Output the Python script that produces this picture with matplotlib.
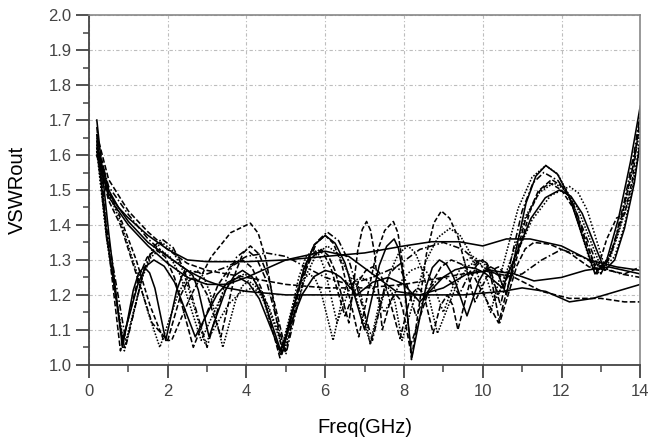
import matplotlib
matplotlib.use("Agg")
import matplotlib.pyplot as plt
from matplotlib.ticker import MultipleLocator

plt.rcParams['font.family'] = ['Liberation Sans', 'DejaVu Sans']

# VSWR traces, (freq GHz, VSWR) keypoints
# steep group: first null near 0.8-1.0 GHz
trace_a1 = [(0.2, 1.70), (0.5, 1.38), (0.85, 1.05), (1.125, 1.213), (1.26, 1.262), (1.4, 1.28), (1.54, 1.263),
            (1.675, 1.219), (1.95, 1.07), (2.225, 1.212), (2.36, 1.254), (2.5, 1.27), (2.64, 1.255), (2.775, 1.215),
            (3.05, 1.08), (3.475, 1.215), (3.69, 1.255), (3.9, 1.27), (4.15, 1.251), (4.4, 1.20), (4.9, 1.03),
            (5.45, 1.271), (5.72, 1.343), (6.0, 1.37), (6.25, 1.348), (6.5, 1.292), (7.0, 1.10), (7.375, 1.285),
            (7.56, 1.339), (7.75, 1.36), (7.86, 1.333), (7.975, 1.261), (8.2, 1.02), (8.55, 1.219), (8.72, 1.278),
            (8.9, 1.30), (9.08, 1.287), (9.25, 1.254), (9.6, 1.14), (9.9, 1.239), (10.05, 1.269), (10.2, 1.28),
            (10.3, 1.274), (10.4, 1.257), (10.6, 1.20), (11.1, 1.463), (11.35, 1.54), (11.6, 1.57), (11.9, 1.545),
            (12.2, 1.48), (12.85, 1.26), (13.15, 1.30), (13.45, 1.42), (13.75, 1.58), (14.0, 1.74)]
trace_a2 = [(0.2, 1.66), (0.45, 1.38), (0.8, 1.04), (1.25, 1.246), (1.475, 1.307), (1.7, 1.33), (1.94, 1.308),
            (2.175, 1.249), (2.65, 1.05), (3.275, 1.228), (3.59, 1.28), (3.9, 1.30), (4.14, 1.278), (4.375, 1.219),
            (4.85, 1.02), (5.375, 1.24), (5.64, 1.305), (5.9, 1.33), (6.075, 1.313), (6.25, 1.269), (6.6, 1.12),
            (6.825, 1.326), (6.94, 1.387), (7.05, 1.41), (7.15, 1.385), (7.25, 1.32), (7.45, 1.10), (7.625, 1.171),
            (7.71, 1.192), (7.8, 1.20), (7.89, 1.188), (7.975, 1.157), (8.15, 1.05), (8.675, 1.228), (8.94, 1.28),
            (9.2, 1.30), (9.5, 1.286), (9.8, 1.248), (10.4, 1.12), (11.075, 1.411), (11.41, 1.497), (11.75, 1.53),
            (12.04, 1.508), (12.325, 1.452), (12.9, 1.26), (13.2, 1.30), (13.5, 1.41), (13.8, 1.56), (14.0, 1.70)]
trace_a3 = [(0.2, 1.62), (0.45, 1.36), (0.9, 1.05), (1.35, 1.249), (1.575, 1.308), (1.8, 1.33), (2.06, 1.309),
            (2.325, 1.255), (2.85, 1.07), (3.4, 1.205), (3.675, 1.245), (3.95, 1.26), (4.2, 1.242), (4.45, 1.196),
            (4.95, 1.04), (5.5, 1.253), (5.775, 1.316), (6.05, 1.34), (6.325, 1.318), (6.6, 1.259), (7.15, 1.06),
            (7.625, 1.259), (7.86, 1.318), (8.1, 1.34), (8.29, 1.32), (8.475, 1.268), (8.85, 1.09), (9.375, 1.239),
            (9.64, 1.283), (9.9, 1.30), (10.025, 1.292), (10.15, 1.271), (10.4, 1.20), (11.1, 1.427), (11.45, 1.494),
            (11.8, 1.52), (12.1, 1.501), (12.4, 1.45), (13.0, 1.28), (13.25, 1.31), (13.5, 1.40), (13.75, 1.53),
            (14.0, 1.68)]
trace_a4 = [(0.2, 1.68), (0.45, 1.39), (0.95, 1.06), (1.4, 1.273), (1.625, 1.336), (1.85, 1.36), (2.14, 1.335),
            (2.425, 1.27), (3.0, 1.05), (3.5, 1.249), (3.75, 1.308), (4.0, 1.33), (4.25, 1.306), (4.5, 1.243),
            (5.0, 1.03), (5.525, 1.279), (5.79, 1.352), (6.05, 1.38), (6.34, 1.355), (6.625, 1.29), (7.2, 1.07),
            (7.5, 1.219), (7.65, 1.263), (7.8, 1.28), (7.925, 1.269), (8.05, 1.239), (8.3, 1.14), (8.65, 1.218),
            (8.825, 1.241), (9.0, 1.25), (9.1, 1.246), (9.2, 1.236), (9.4, 1.20), (9.7, 1.271), (9.85, 1.292),
            (10.0, 1.30), (10.11, 1.29), (10.225, 1.262), (10.45, 1.17), (11.0, 1.44), (11.275, 1.52), (11.55, 1.55),
            (11.91, 1.527), (12.275, 1.466), (13.0, 1.26), (13.3, 1.33), (13.6, 1.47), (13.85, 1.61), (14.0, 1.72)]
trace_a5 = [(0.2, 1.64), (0.45, 1.37), (0.85, 1.07), (1.25, 1.233), (1.45, 1.282), (1.65, 1.30), (1.91, 1.282),
            (2.175, 1.236), (2.7, 1.08), (3.25, 1.201), (3.525, 1.236), (3.8, 1.25), (4.06, 1.233), (4.325, 1.189),
            (4.85, 1.04), (5.425, 1.203), (5.71, 1.252), (6.0, 1.27), (6.2, 1.264), (6.4, 1.25), (6.8, 1.20),
            (7.2, 1.236), (7.6, 1.25), (8.0, 1.23), (8.4, 1.18), (9.0, 1.251), (9.3, 1.272), (9.6, 1.28),
            (9.825, 1.275), (10.05, 1.263), (10.5, 1.22), (11.225, 1.419), (11.59, 1.478), (11.95, 1.50),
            (12.24, 1.482), (12.525, 1.433), (13.1, 1.27), (13.35, 1.30), (13.6, 1.39), (13.85, 1.52), (14.0, 1.64)]

# slow group: smooth decay
trace_b1 = [(0.2, 1.62), (0.5, 1.50), (0.75, 1.45), (1.0, 1.42), (1.5, 1.37), (2.0, 1.33), (2.5, 1.30),
            (3.0, 1.295), (4.0, 1.295), (5.0, 1.30), (6.0, 1.31), (7.0, 1.32), (8.0, 1.34), (8.7, 1.352),
            (9.4, 1.352), (10.0, 1.34), (10.6, 1.36), (11.2, 1.36), (12.0, 1.34), (12.7, 1.30), (13.4, 1.28),
            (14.0, 1.27)]
trace_b2 = [(0.2, 1.66), (0.5, 1.53), (1.0, 1.44), (1.5, 1.38), (2.0, 1.33), (2.5, 1.29), (3.0, 1.27),
            (4.0, 1.25), (5.0, 1.23), (6.0, 1.22), (7.0, 1.22), (8.0, 1.23), (9.0, 1.25), (10.0, 1.27),
            (10.8, 1.25), (11.5, 1.21), (12.2, 1.19), (13.0, 1.19), (13.6, 1.18), (14.0, 1.18)]
trace_b3 = [(0.2, 1.60), (0.5, 1.49), (1.0, 1.41), (1.5, 1.35), (2.0, 1.31), (2.5, 1.27), (3.0, 1.24),
            (3.5, 1.22), (4.0, 1.21), (5.0, 1.20), (6.0, 1.20), (7.0, 1.20), (8.0, 1.20), (9.5, 1.20),
            (10.5, 1.21), (11.0, 1.22), (11.6, 1.21), (12.2, 1.18), (12.8, 1.19), (13.4, 1.21), (14.0, 1.23)]
trace_b4 = [(0.2, 1.63), (0.5, 1.51), (1.0, 1.43), (1.5, 1.36), (2.0, 1.31), (2.5, 1.27), (3.0, 1.26),
            (3.5, 1.28), (4.0, 1.31), (4.5, 1.32), (5.0, 1.31), (5.5, 1.28), (6.0, 1.25), (6.6, 1.23),
            (7.2, 1.25), (7.8, 1.28), (8.4, 1.33), (9.0, 1.35), (9.5, 1.33), (10.0, 1.28), (10.5, 1.25),
            (11.0, 1.26), (11.5, 1.30), (12.0, 1.33), (12.5, 1.31), (13.0, 1.28), (13.5, 1.26), (14.0, 1.25)]
trace_b5 = [(0.2, 1.61), (0.5, 1.48), (1.0, 1.40), (1.5, 1.34), (2.0, 1.29), (2.5, 1.25), (3.0, 1.23),
            (3.5, 1.23), (4.0, 1.25), (5.0, 1.30), (6.0, 1.325), (6.6, 1.31), (7.2, 1.26), (7.8, 1.21),
            (8.4, 1.20), (9.0, 1.22), (9.6, 1.26), (10.2, 1.27), (10.8, 1.26), (11.3, 1.24), (12.0, 1.25),
            (12.6, 1.27), (13.2, 1.28), (14.0, 1.26)]

# slow group: first null near 1.8-2.1 GHz
trace_c1 = [(0.2, 1.65), (0.5, 1.50), (0.8, 1.42), (1.2, 1.30), (1.55, 1.17), (1.9, 1.07), (2.1, 1.07),
            (2.6, 1.20), (3.1, 1.308), (3.6, 1.378), (4.1, 1.405), (4.3, 1.376), (4.5, 1.299), (4.9, 1.04),
            (5.45, 1.274), (5.725, 1.344), (6.0, 1.37), (6.21, 1.347), (6.425, 1.286), (6.85, 1.08), (7.29, 1.314),
            (7.51, 1.384), (7.73, 1.41), (7.845, 1.378), (7.96, 1.295), (8.19, 1.015), (8.57, 1.317), (8.76, 1.406),
            (8.95, 1.44), (9.16, 1.419), (9.375, 1.365), (9.8, 1.18), (10.1, 1.251), (10.25, 1.272), (10.4, 1.28),
            (10.7, 1.24), (11.2, 1.439), (11.45, 1.498), (11.7, 1.52), (12.0, 1.50), (12.3, 1.448), (12.9, 1.27),
            (13.15, 1.36), (13.4, 1.42), (13.6, 1.43), (13.8, 1.53), (14.0, 1.71)]
trace_c2 = [(0.2, 1.63), (0.5, 1.49), (0.8, 1.41), (1.2, 1.27), (1.5, 1.15), (1.8, 1.05), (2.275, 1.206),
            (2.51, 1.252), (2.75, 1.27), (2.91, 1.252), (3.075, 1.206), (3.4, 1.05), (3.725, 1.185), (3.89, 1.225),
            (4.05, 1.24), (4.25, 1.223), (4.45, 1.179), (4.85, 1.03), (5.225, 1.193), (5.41, 1.242), (5.6, 1.26),
            (5.75, 1.245), (5.9, 1.205), (6.2, 1.07), (6.45, 1.198), (6.575, 1.236), (6.7, 1.25), (6.81, 1.235),
            (6.92, 1.195), (7.14, 1.06), (7.37, 1.174), (7.485, 1.207), (7.6, 1.22), (7.69, 1.208), (7.775, 1.177),
            (7.95, 1.07), (8.555, 1.297), (8.86, 1.364), (9.16, 1.39), (9.42, 1.371), (9.68, 1.32), (10.2, 1.15),
            (10.9, 1.448), (11.25, 1.536), (11.6, 1.57), (11.9, 1.546), (12.2, 1.483), (12.8, 1.27), (13.1, 1.29),
            (13.4, 1.36), (13.7, 1.47), (14.0, 1.62)]
trace_c3 = [(0.2, 1.60), (0.5, 1.47), (0.8, 1.40), (1.2, 1.26), (1.6, 1.12), (2.0, 1.07), (2.325, 1.198),
            (2.49, 1.236), (2.65, 1.25), (2.825, 1.236), (3.0, 1.201), (3.35, 1.08), (3.725, 1.265), (3.91, 1.319),
            (4.1, 1.34), (4.325, 1.316), (4.55, 1.253), (5.0, 1.04), (5.4, 1.246), (5.6, 1.307), (5.8, 1.33),
            (5.975, 1.315), (6.15, 1.275), (6.5, 1.14), (6.85, 1.239), (7.025, 1.269), (7.2, 1.28), (7.375, 1.264),
            (7.55, 1.221), (7.9, 1.075), (8.125, 1.178), (8.24, 1.208), (8.35, 1.22), (8.45, 1.21), (8.545, 1.182),
            (8.74, 1.09), (8.92, 1.168), (9.1, 1.20), (9.235, 1.171), (9.37, 1.10), (9.685, 1.242), (9.84, 1.284),
            (10.0, 1.30), (10.11, 1.286), (10.215, 1.248), (10.43, 1.12), (10.865, 1.283), (11.08, 1.332),
            (11.3, 1.35), (11.7, 1.345), (12.2, 1.32), (12.7, 1.28), (13.2, 1.27), (13.6, 1.26), (14.0, 1.28)]
trace_d1 = [(0.2, 1.61), (0.45, 1.36), (0.9, 1.04), (1.375, 1.26), (1.61, 1.325), (1.85, 1.35), (2.125, 1.327),
            (2.4, 1.266), (2.95, 1.06), (3.55, 1.174), (3.85, 1.207), (4.15, 1.22), (4.35, 1.206), (4.55, 1.171),
            (4.95, 1.05), (5.325, 1.249), (5.51, 1.308), (5.7, 1.33), (5.85, 1.313), (6.0, 1.269), (6.3, 1.12),
            (6.6, 1.212), (6.75, 1.24), (6.9, 1.25), (7.05, 1.242), (7.2, 1.221), (7.5, 1.15), (7.95, 1.242),
            (8.175, 1.27), (8.4, 1.28), (8.55, 1.27), (8.7, 1.242), (9.0, 1.15), (9.375, 1.264), (9.56, 1.297),
            (9.75, 1.31), (9.89, 1.30), (10.025, 1.272), (10.3, 1.18), (11.25, 1.414), (11.725, 1.484),
            (12.2, 1.51), (12.425, 1.492), (12.65, 1.443), (13.1, 1.28), (13.35, 1.31), (13.6, 1.40),
            (13.85, 1.53), (14.0, 1.66)]

traces = [trace_a1, trace_a2, trace_a3, trace_a4, trace_a5,
          trace_b1, trace_b2, trace_b3, trace_b4, trace_b5,
          trace_c1, trace_c2, trace_c3, trace_d1]
styles = ['-', (0, (3.5, 1.5)), (0, (1, 1)), (0, (4, 1.5, 1, 1.5)), '-',
          '-', (0, (3.5, 1.5)), '-', (0, (4, 1.5, 1, 1.5)), '-',
          (0, (3, 1.5)), (0, (1, 1)), (0, (3.5, 1.5)), (0, (1, 1.2))]

x_ticks = [0, 2, 4, 6, 8, 10, 12, 14]
y_ticks = [1.0, 1.1, 1.2, 1.3, 1.4, 1.5, 1.6, 1.7, 1.8, 1.9, 2.0]

fig = plt.figure(figsize=(6.54, 4.46), dpi=100)
ax = fig.add_axes([0.136, 0.182, 0.843, 0.784])

for tr, ls in zip(traces, styles):
    f = [p[0] for p in tr]
    v = [p[1] for p in tr]
    ax.plot(f, v, color='black', lw=1.15, linestyle=ls, solid_joinstyle='round')

ax.set_xlim(0, 14)
ax.set_ylim(1.0, 2.0)
ax.set_xticks(x_ticks)
ax.set_yticks(y_ticks)
ax.set_yticklabels([f"{t:.1f}" for t in y_ticks])
ax.xaxis.set_minor_locator(MultipleLocator(1))
ax.yaxis.set_minor_locator(MultipleLocator(0.05))

ax.grid(True, which='major', color='#bdbdbd', lw=0.8, linestyle=(0, (3, 2, 1, 2)))
ax.set_axisbelow(True)

ax.tick_params(which='both', labelsize=12, labelcolor='#444444', color='#444444', direction='out')
ax.tick_params(axis='y', which='major', length=9.5, width=1.3, pad=3)
ax.tick_params(axis='y', which='minor', length=4.5, width=1.1)
ax.tick_params(axis='x', which='major', length=9.5, width=1.3, pad=4)
ax.tick_params(axis='x', which='minor', length=5, width=1.1)
ax.tick_params(axis='x', which='both', top=False)
ax.tick_params(axis='y', which='both', right=False)

for side in ['left', 'bottom']:
    ax.spines[side].set_color('#444444')
    ax.spines[side].set_linewidth(1.3)
for side in ['top', 'right']:
    ax.spines[side].set_color('#888888')
    ax.spines[side].set_linewidth(1.2)

ax.set_xlabel('Freq(GHz)', fontsize=14.5, va='center')
ax.xaxis.set_label_coords(0.5, -0.18)
ax.set_ylabel('VSWRout', fontsize=14.5, va='center')
ax.yaxis.set_label_coords(-0.129, 0.5)

fig.savefig('out.png', dpi=100)
